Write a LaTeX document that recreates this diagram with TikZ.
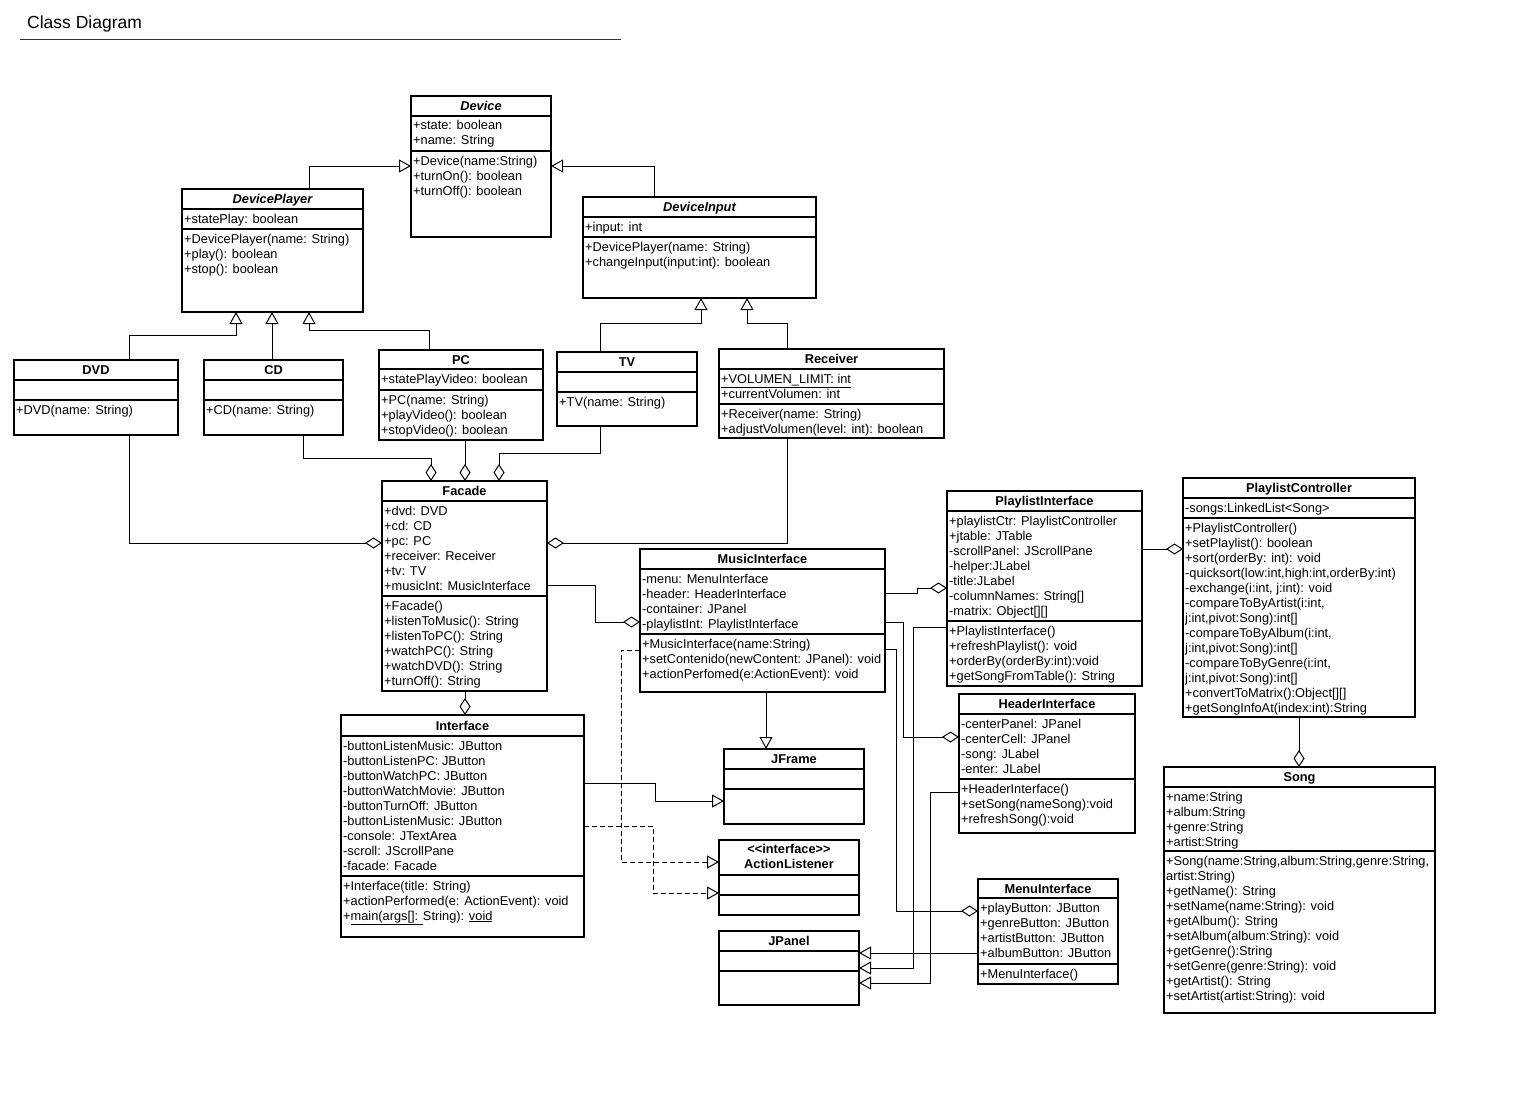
\documentclass[tikz,border=0pt]{standalone}
\usepackage{fontspec}
\setmainfont{Liberation Sans}
\usetikzlibrary{arrows.meta}
\newcommand\fsz{\fontsize{12.8}{15}\selectfont}
\tikzset{
  cls/.style={draw, line width=1.7pt, inner sep=0pt, outer sep=0pt, anchor=north west, fill=white},
  sepl/.style={line width=1.7pt},
  mem/.style={anchor=base west, inner sep=0pt, font=\fsz},
  hd/.style={anchor=base, inner sep=0pt, font=\fsz\bfseries},
  gen/.style={line width=1pt, -{Triangle[open,length=12pt,width=13pt]}},
  real/.style={gen, dash pattern=on 5pt off 3pt},
  agg/.style={line width=1pt, -{Diamond[open,length=17pt,width=11pt]}}
}
% #1 name, #2 title, #3 x1, #4 y1, #5 x2, #6 y2, #7 sep1, #8 sep2
\newcommand\umlbox[8]{%
  \node[cls, minimum width={(#5-#3)*1pt}, minimum height={(#6-#4)*1pt}] (#1) at (#3,#4) {};
  \node[hd] (#1-t) at ({(#3+#5)/2},{(#4+#7)/2+4.5}) {#2};
  \draw[sepl] (#3,#7) -- (#5,#7);
  \draw[sepl] (#3,#8) -- (#5,#8);
}
% #1 prefix, #2 x, #3 first baseline, #4 list
\newcommand\mems[4]{%
  \foreach \mt [count=\mi] in {#4} {\node[mem] (#1-\mi) at (#2,{#3+15*(\mi-1)}) {\mt};}
}
\begin{document}
\begin{tikzpicture}[x=1pt,y=-1pt]
\fill[white] (0,0) rectangle (1536,1113);
\useasboundingbox (0,0) rectangle (1536,1113);

% title
\node[anchor=base west, inner sep=0pt, font=\fontsize{17.5}{20}\selectfont] (title) at (27,29) {Class Diagram};
\coordinate (tl1) at (20,40);
\coordinate (tl2) at (621,40);
\draw[line width=1pt, black!80] (tl1) -- (tl2);

% Device
\umlbox{dev}{\itshape Device}{411}{96}{551}{237}{116}{151}
\mems{deva}{413}{130}{{+state: boolean},{+name: String}}
\mems{devm}{413}{165}{{+Device(name:String)},{+turnOn(): boolean},{+turnOff(): boolean}}

% DevicePlayer
\umlbox{dp}{\itshape DevicePlayer}{182}{189}{363}{312}{209}{229}
\mems{dpa}{184}{223}{{+statePlay: boolean}}
\mems{dpm}{184}{243}{{+DevicePlayer(name: String)},{+play(): boolean},{+stop(): boolean}}

% DeviceInput
\umlbox{di}{\itshape DeviceInput}{583}{197}{816}{298}{217}{237}
\mems{dia}{585}{231}{{+input: int}}
\mems{dim}{585}{251}{{+DevicePlayer(name: String)},{+changeInput(input:int): boolean}}

% DVD, CD, PC, TV, Receiver
\umlbox{dvd}{DVD}{14}{360}{178}{435}{380}{400}
\mems{dvdm}{16}{414}{{+DVD(name: String)}}
\umlbox{cd}{CD}{204}{360}{343}{435}{380}{400}
\mems{cdm}{206}{414}{{+CD(name: String)}}
\umlbox{pc}{PC}{379}{350}{543}{440}{369}{390}
\mems{pca}{381}{383}{{+statePlayVideo: boolean}}
\mems{pcm}{381}{404}{{+PC(name: String)},{+playVideo(): boolean},{+stopVideo(): boolean}}
\umlbox{tv}{TV}{557}{352}{697}{426}{372}{392}
\mems{tvm}{559}{406}{{+TV(name: String)}}
\umlbox{rcv}{Receiver}{719}{349}{944}{438}{369}{404}
\mems{rcva}{721}{383}{{\underline{+VOLUMEN\_LIMIT: int}},{+currentVolumen: int}}
\mems{rcvm}{721}{418}{{+Receiver(name: String)},{+adjustVolumen(level: int): boolean}}

% Facade
\umlbox{fac}{Facade}{382}{481}{547}{691}{501}{596}
\mems{faca}{384}{515}{{+dvd: DVD},{+cd: CD},{+pc: PC},{+receiver: Receiver},{+tv: TV},{+musicInt: MusicInterface}}
\mems{facm}{384}{610}{{+Facade()},{+listenToMusic(): String},{+listenToPC(): String},{+watchPC(): String},{+watchDVD(): String},{+turnOff(): String}}

% Interface
\umlbox{ifc}{Interface}{341}{715}{584}{937}{736}{876}
\mems{ifca}{343}{750}{{-buttonListenMusic: JButton},{-buttonListenPC: JButton},{-buttonWatchPC: JButton},{-buttonWatchMovie: JButton},{-buttonTurnOff: JButton},{-buttonListenMusic: JButton},{-console: JTextArea},{-scroll: JScrollPane},{-facade: Facade}}
\mems{ifcm}{343}{890}{{+Interface(title: String)},{+actionPerformed(e: ActionEvent): void},{+\underline{main(args[]: }String): \underline{void}}}

% MusicInterface
\umlbox{mi}{MusicInterface}{640}{549}{885}{692}{569}{634}
\mems{mia}{642}{583}{{-menu: MenuInterface},{-header: HeaderInterface},{-container: JPanel},{-playlistInt: PlaylistInterface}}
\mems{mim}{642}{648}{{+MusicInterface(name:String)},{+setContenido(newContent: JPanel): void},{+actionPerfomed(e:ActionEvent): void}}

% JFrame
\umlbox{jf}{JFrame}{724}{749}{864}{824}{769}{789}

% ActionListener
\node[cls, minimum width=140pt, minimum height=75pt] (al) at (719,840) {};
\node[hd] (al-s) at (789,853) {{<}{<}interface{>}{>}};
\node[hd] (al-t) at (789,868) {ActionListener};
\draw[sepl] (719,875) -- (859,875);
\draw[sepl] (719,895) -- (859,895);

% JPanel
\umlbox{jp}{JPanel}{719}{931}{859}{1005}{951}{971}

% PlaylistInterface
\umlbox{pi}{PlaylistInterface}{947}{491}{1142}{686}{511}{621}
\mems{pia}{949}{525}{{+playlistCtr: PlaylistController},{+jtable: JTable},{-scrollPanel: JScrollPane},{-helper:JLabel},{-title:JLabel},{-columnNames: String[]},{-matrix: Object[][]}}
\mems{pim}{949}{635}{{+PlaylistInterface()},{+refreshPlaylist(): void},{+orderBy(orderBy:int):void},{+getSongFromTable(): String}}

% HeaderInterface
\umlbox{hi}{HeaderInterface}{959}{694}{1135}{833}{714}{779}
\mems{hia}{961}{728}{{-centerPanel: JPanel},{-centerCell: JPanel},{-song: JLabel},{-enter: JLabel}}
\mems{him}{961}{793}{{+HeaderInterface()},{+setSong(nameSong):void},{+refreshSong():void}}

% MenuInterface
\umlbox{menu}{MenuInterface}{978}{879}{1118}{984}{898}{964}
\mems{menua}{980}{912}{{+playButton: JButton},{+genreButton: JButton},{+artistButton: JButton},{+albumButton: JButton}}
\mems{menum}{980}{978}{{+MenuInterface()}}

% PlaylistController
\umlbox{plc}{PlaylistController}{1183}{478}{1415}{717}{498}{518}
\mems{plca}{1185}{512}{{-songs:LinkedList<Song>}}
\mems{plcm}{1185}{532}{{+PlaylistController()},{+setPlaylist(): boolean},{+sort(orderBy: int): void},{-quicksort(low:int,high:int,orderBy:int)},{-exchange(i:int, j:int): void},{-compareToByArtist(i:int,},{j:int,pivot:Song):int[]},{-compareToByAlbum(i:int,},{j:int,pivot:Song):int[]},{-compareToByGenre(i:int,},{j:int,pivot:Song):int[]},{+convertToMatrix():Object[][]},{+getSongInfoAt(index:int):String}}

% Song
\umlbox{song}{Song}{1164}{767}{1435}{1013}{787}{851}
\mems{songa}{1166}{801}{{+name:String},{+album:String},{+genre:String},{+artist:String}}
\mems{songm}{1166}{865}{{+Song(name:String,album:String,genre:String,},{artist:String)},{+getName(): String},{+setName(name:String): void},{+getAlbum(): String},{+setAlbum(album:String): void},{+getGenre():String},{+setGenre(genre:String): void},{+getArtist(): String},{+setArtist(artist:String): void}}

% ---- generalizations
\draw[gen] (dp.north -| 309,0) |- (dev.west |- 0,166);
\draw[gen] (di.north -| 654,0) |- (dev.east |- 0,166);
\draw[gen] (dvd.north -| 129,0) |- (236,335) -- (dp.south -| 236,0);
\draw[gen] (cd.north -| 272,0) -- (dp.south -| 272,0);
\draw[gen] (pc.north -| 429,0) |- (309,330) -- (dp.south -| 309,0);
\draw[gen] (tv.north -| 600,0) |- (701,323) -- (di.south -| 701,0);
\draw[gen] (rcv.north -| 787,0) |- (747,323) -- (di.south -| 747,0);
\draw[gen] (mi.south -| 766,0) -- (jf.north -| 766,0);
\draw[gen] (ifc.east |- 0,783) -| (655,801) -- (jf.west |- 0,801);
\draw[gen] (pi.west |- 0,627) -| (913,968) -- (jp.east |- 0,968);
\draw[gen] (hi.west |- 0,792) -| (930,983) -- (jp.east |- 0,983);
\draw[gen] (menu.west |- 0,953) -- (jp.east |- 0,953);
% ---- realizations
\draw[real] (ifc.east |- 0,826) -| (653,893) -- (al.west |- 0,893);
\draw[real] (mi.west |- 0,650) -| (621,862) -- (al.west |- 0,862);
% ---- aggregations
\draw[agg] (dvd.south -| 129,0) |- (fac.west |- 0,543);
\draw[agg] (cd.south -| 303,0) |- (431,458) -- (fac.north -| 431,0);
\draw[agg] (pc.south -| 465,0) -- (fac.north -| 465,0);
\draw[agg] (tv.south -| 600,0) |- (499,453) -- (fac.north -| 499,0);
\draw[agg] (rcv.south -| 787,0) |- (fac.east |- 0,543);
\draw[agg] (fac.south -| 465,0) -- (ifc.north -| 465,0);
\draw[agg] (fac.east |- 0,585) -| (595,622) -- (mi.west |- 0,622);
\draw[agg] (mi.east |- 0,593) -| (917,588) -- (pi.west |- 0,588);
\draw[agg] (mi.east |- 0,622) -| (903,737) -- (hi.west |- 0,737);
\draw[agg] (mi.east |- 0,649) -| (896,911) -- (menu.west |- 0,911);
\draw[agg] (pi.east |- 0,549) -- (plc.west |- 0,549);
\draw[agg] (plc.south -| 1299,0) -- (song.north -| 1299,0);
\end{tikzpicture}
\end{document}
